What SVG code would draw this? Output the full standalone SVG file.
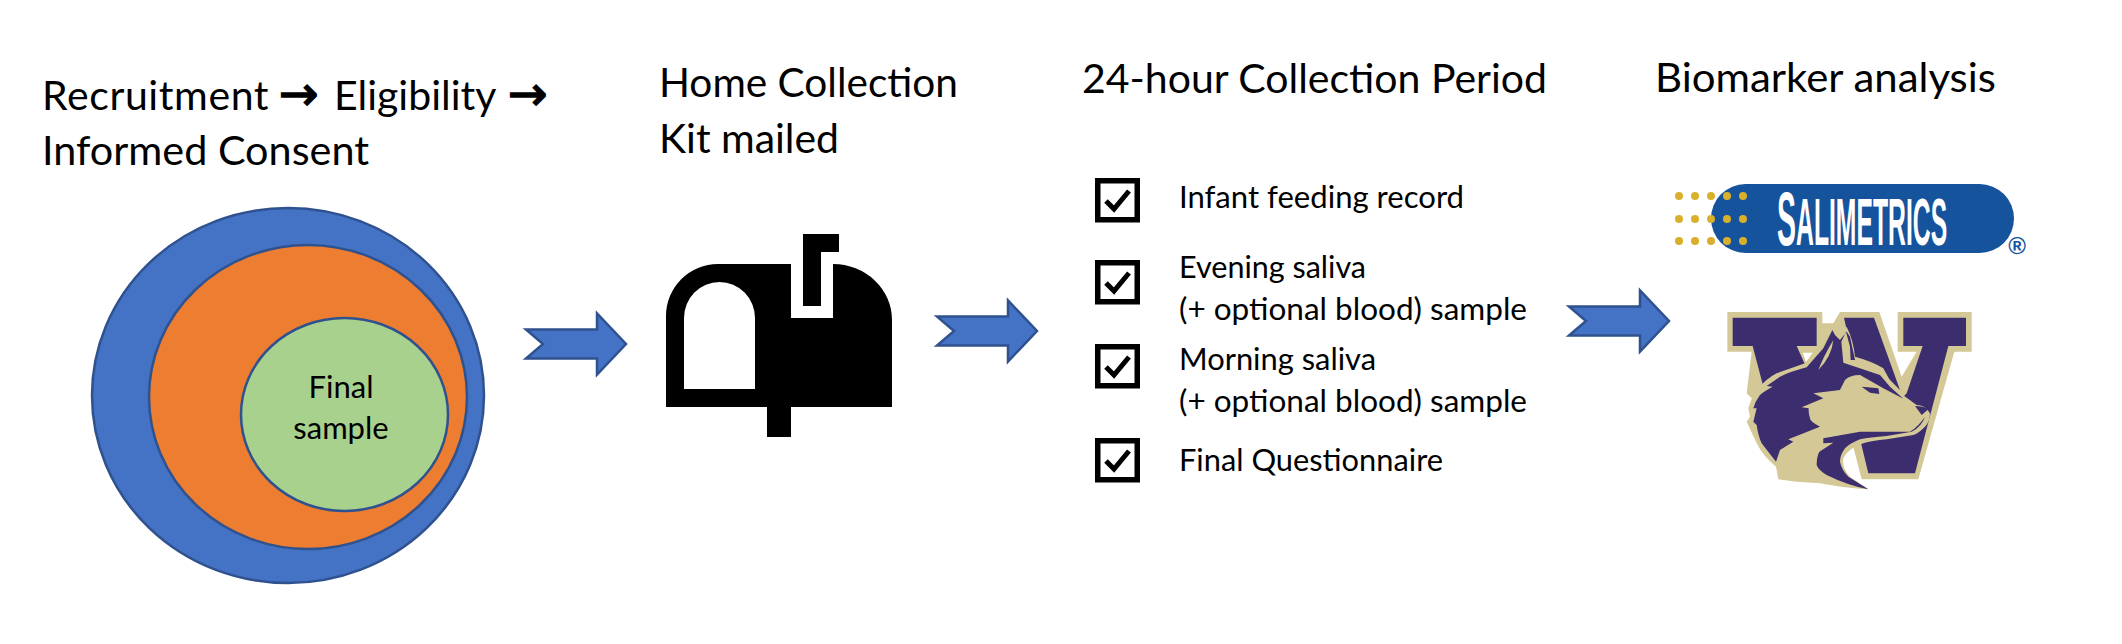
<svg xmlns="http://www.w3.org/2000/svg" width="2122" height="644" viewBox="0 0 2122 644">
<style>
text{font-family:"Lato","Open Sans","DejaVu Sans",sans-serif;fill:#000}
.h{font-size:41px}
.b{font-size:30.5px}
.c{font-size:31px;text-anchor:middle}
.sym{font-family:"DejaVu Sans",sans-serif;font-weight:400;font-size:47px;stroke:#000;stroke-width:1.6px}
.box{fill:#fff;stroke:#000;stroke-width:5.5}
.tick{fill:none;stroke:#000;stroke-width:5}
.arrow{fill:#4472C4;stroke:#2F528F;stroke-width:2.5}
.dot{fill:#D9B02C}
.tan{fill:#D4C896}
.pur{fill:#3B2D6E}
</style>
<defs>
<path id="ba" class="arrow" d="M0,-14.500H71V-30.500L100,0L71,30.500V14.500H0L17,0Z"/>
<g id="cb"><rect class="box" x="2.750" y="2.750" width="39.500" height="39"/><path class="tick" d="M11,23L19,31L34,13"/></g>
</defs>
<rect width="2122" height="644" fill="#fff"/>
<g id="heading-recruit">
<text class="h" y="110"><tspan x="42" letter-spacing="0.6">Recruitment</tspan><tspan class="sym" x="279">→</tspan><tspan x="334">Eligibility</tspan><tspan class="sym" x="508">→</tspan></text>
<text class="h" x="42" y="165" textLength="327" lengthAdjust="spacingAndGlyphs">Informed Consent</text>
</g>
<g id="heading-kit">
<text class="h" x="659" y="97" textLength="299" lengthAdjust="spacingAndGlyphs">Home Collection</text>
<text class="h" x="659" y="153" textLength="180" lengthAdjust="spacingAndGlyphs">Kit mailed</text>
</g>
<g id="heading-period"><text class="h" x="1082" y="93" textLength="465" lengthAdjust="spacingAndGlyphs">24-hour Collection Period</text></g>
<g id="heading-analysis"><text class="h" x="1655" y="92" textLength="341" lengthAdjust="spacingAndGlyphs">Biomarker analysis</text></g>
<g id="sample-circles">
<ellipse cx="288" cy="395.500" rx="196" ry="187.500" fill="#4472C4" stroke="#2F528F" stroke-width="2.500"/>
<ellipse cx="308" cy="397" rx="159" ry="152" fill="#ED7D31" stroke="#2F528F" stroke-width="2.500"/>
<ellipse cx="344.500" cy="414.500" rx="103.500" ry="96.500" fill="#A9D18E" stroke="#2F528F" stroke-width="2.500"/>
<text class="c" x="341" y="398">Final</text>
<text class="c" x="341" y="439">sample</text>
</g>
<g id="mailbox">
<path d="M666,407V316A52,52 0 0 1 718,264H791V318H833V264A59,56 0 0 1 892,320V407H791V437H767V407ZM684,389H755V318A35.500,36 0 0 0 684,318Z" fill-rule="evenodd"/>
<path d="M803,234H839V252H821V306H803Z"/>
</g>
<g id="connectors">
<use href="#ba" x="526" y="344"/>
<use href="#ba" x="937" y="331"/>
<use href="#ba" x="1569" y="321"/>
</g>
<g id="checklist">
<use href="#cb" x="1095" y="178"/>
<text class="b" x="1179" y="208" textLength="285" lengthAdjust="spacingAndGlyphs">Infant feeding record</text>
<use href="#cb" x="1095" y="260"/>
<text class="b" x="1179" y="278" textLength="187" lengthAdjust="spacingAndGlyphs">Evening saliva</text>
<text class="b" x="1179" y="320" textLength="348" lengthAdjust="spacingAndGlyphs">(+ optional blood) sample</text>
<use href="#cb" x="1095" y="344"/>
<text class="b" x="1179" y="370" textLength="197" lengthAdjust="spacingAndGlyphs">Morning saliva</text>
<text class="b" x="1179" y="412" textLength="348" lengthAdjust="spacingAndGlyphs">(+ optional blood) sample</text>
<use href="#cb" x="1095" y="438"/>
<text class="b" x="1179" y="471" textLength="264" lengthAdjust="spacingAndGlyphs">Final Questionnaire</text>
</g>
<g id="salimetrics-logo">
<rect x="1711" y="184" width="303" height="69" rx="34.500" fill="#15539C"/>
<g class="dot">
<circle cx="1679" cy="196" r="4"/><circle cx="1695" cy="196" r="4"/><circle cx="1711" cy="196" r="4"/><circle cx="1727" cy="196" r="4"/><circle cx="1743" cy="196" r="4"/>
<circle cx="1679" cy="219" r="4"/><circle cx="1695" cy="219" r="4"/><circle cx="1711" cy="219" r="4"/><circle cx="1727" cy="219" r="4"/><circle cx="1743" cy="219" r="4"/>
<circle cx="1679" cy="241" r="4"/><circle cx="1695" cy="241" r="4"/><circle cx="1711" cy="241" r="4"/><circle cx="1727" cy="241" r="4"/><circle cx="1743" cy="241" r="4"/>
</g>
<text transform="translate(1777,245) scale(0.375,1)" style="font-family:'Liberation Sans',sans-serif;font-weight:700;fill:#fff;font-size:66px"><tspan font-size="76">S</tspan>ALIMETRICS</text>
<text x="2017" y="254" text-anchor="middle" style="font-family:'Liberation Sans',sans-serif;font-weight:700;fill:#15539C;font-size:24px">®</text>
</g>
<g id="uw-logo" transform="translate(1620,160) scale(0.33333)">
<path class="tan" d="M322,456H607V490H640L660,456H778L845,650L890,575H833V456H1055V575H1003L895,958H725L700,860L480,800L380,700L395,575H322Z"/>
<path d="M548,578H578L558,606Z" fill="#fff"/>
<path class="pur" d="M338,473H590V558H530L558,620L430,680L398,558H338Z"/>
<path class="pur" d="M672,473H762L840,690L790,640L700,600Z"/>
<path class="pur" d="M850,473H1038V558H985L885,940H745L722,845L860,700L908,558H850Z"/>
<path class="tan" d="M640,490L660,525L680,500Q700,540 705,590Q760,605 790,625L812,665L835,695L890,735Q915,735 930,760Q930,785 915,800Q895,820 880,825L800,838Q755,842 730,850Q685,865 670,895Q665,925 690,950L745,988Q680,985 600,970L530,965L475,958L468,920Q430,890 410,850L380,785L390,770L385,745Q395,710 410,690Q440,655 470,640L555,610Q600,565 610,555Z"/>
<path class="pur" d="M637,510L610,565L560,622Q510,635 480,650L440,678L458,680Q430,695 420,705Q405,725 400,745L410,745L400,785L410,795Q415,830 425,850L468,905L480,870L520,845L505,838L600,800Q570,785 570,775Q565,760 566,745L545,742L610,715L580,700L660,690L675,660Q690,645 720,645L790,685L850,716L810,680L780,645L670,608L664,545L678,515L690,560L692,600L705,600L690,530L680,515L660,540L645,525Z"/>
<path class="tan" d="M595,630Q610,590 640,540Q635,590 595,630Z"/>
<path class="pur" d="M725,680L775,685L778,702L750,698Z"/>
<path class="pur" d="M885,738Q910,738 925,748L905,765Z"/>
<path class="pur" d="M610,835L720,815H870Q895,800 915,770Q905,800 875,815L800,828Q750,832 720,838Q690,850 675,865Q660,885 660,905Q665,930 685,950L745,988Q680,975 620,945Q595,930 590,915Q590,890 598,875L640,848L610,850Z"/>
</g>
</svg>
